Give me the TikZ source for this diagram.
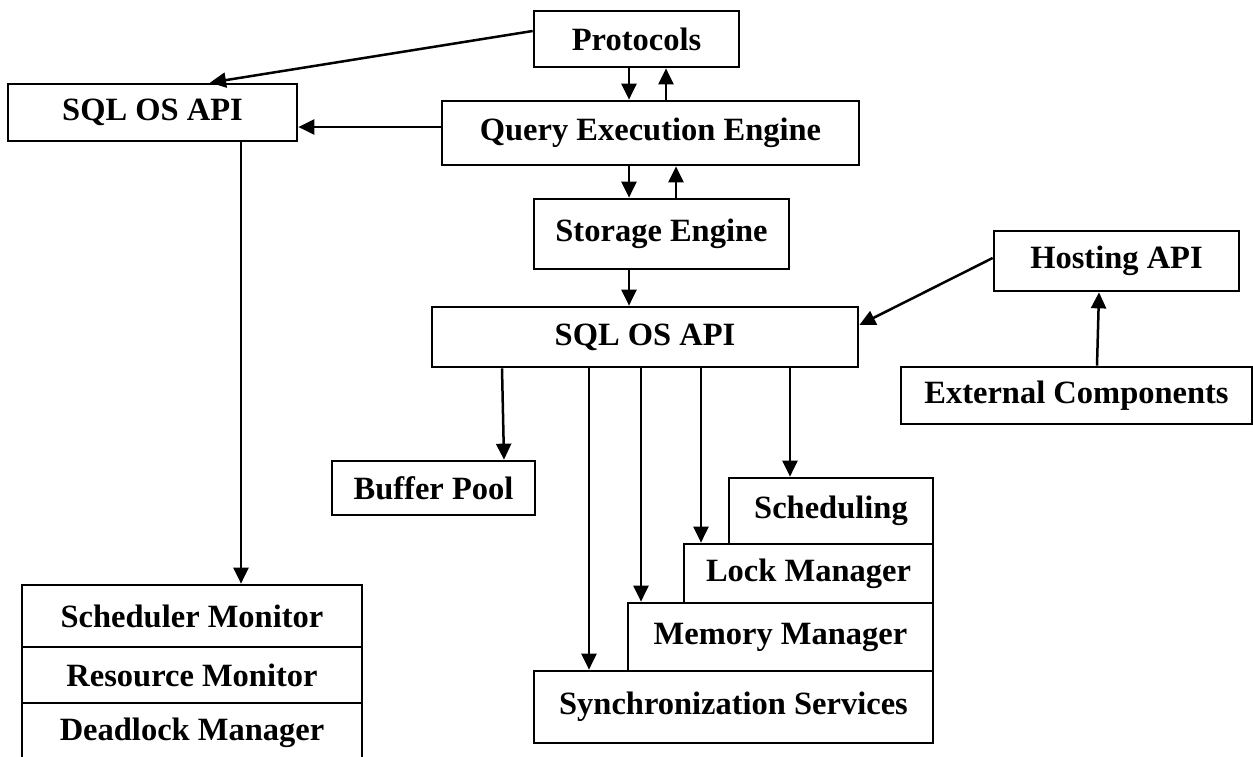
\documentclass[tikz,border=0pt]{standalone}
\usepackage{fontspec}
\setmainfont{Liberation Serif}
\usetikzlibrary{arrows.meta,calc}
\newcommand\mkbox[6]{\node[box, minimum width={(#4-#2)*1pt}, minimum height={(#5-#3)*1pt}] (#1) at ({(#2+#4)/2},{(#3+#5)/2}) {#6};}
\begin{document}
\begin{tikzpicture}[x=1pt,y=-1pt,
  box/.style={draw, line width=2.7pt, inner sep=0pt, font=\bfseries\fontsize{32.5}{38}\selectfont},
  arr/.style={line width=2.5pt, -{Triangle[width=15pt,length=16pt]}}]
\useasboundingbox (0,0) rectangle (1253,756);
% boxes
\mkbox{proto}{534}{11}{739}{67}{Protocols}
\mkbox{qee}{442}{101}{859}{165}{Query Execution Engine}
\mkbox{se}{534}{199}{789}{269}{Storage Engine}
\mkbox{sqlL}{8}{84}{297}{141}{SQL OS API}
\mkbox{main}{432}{307}{858}{367}{SQL OS API}
\mkbox{host}{994}{231}{1239}{291}{Hosting API}
\mkbox{ext}{901}{367}{1252}{424}{External Components}
\mkbox{buf}{332}{461}{535}{515}{Buffer Pool}
\mkbox{sched}{729}{478}{933}{544}{Scheduling}
\mkbox{lock}{684}{544}{933}{603}{Lock Manager}
\mkbox{mem}{628}{603}{933}{671}{Memory Manager}
\mkbox{sync}{534}{671}{933}{743}{Synchronization Services}
\mkbox{stk1}{22}{585}{362}{647}{Scheduler Monitor}
\mkbox{stk2}{22}{647}{362}{703}{Resource Monitor}
\mkbox{stk3}{22}{703}{362}{762}{Deadlock Manager}
% connectors
\draw[arr] ([yshift=8pt]proto.west) -- ([xshift=57.5pt]sqlL.north);
\draw[arr] ([yshift=6pt]qee.west) coordinate (q1) -- (q1 -| sqlL.east);
\draw[arr] ([xshift=-7.5pt]proto.south) coordinate (p1) -- (p1 |- qee.north);
\coordinate (p2) at ([xshift=29.5pt]proto.south);
\draw[arr] (p2 |- qee.north) -- (p2);
\draw[arr] ([xshift=-21.5pt]qee.south) coordinate (q2) -- (q2 |- se.north);
\coordinate (q3) at ([xshift=25.5pt]qee.south);
\draw[arr] (q3 |- se.north) -- (q3);
\draw[arr] ([xshift=-32.5pt]se.south) coordinate (s1) -- (s1 |- main.north);
\draw[arr] ([yshift=3pt]host.west) -- ([yshift=12pt]main.east);
\draw[arr] ([xshift=20.5pt]ext.north) -- ([xshift=-17.5pt]host.south);
\draw[arr] ([xshift=-143pt]main.south) -- ([xshift=70.5pt]buf.north);
\draw[arr] ([xshift=-56pt]main.south) coordinate (m1) -- (m1 |- sync.north);
\draw[arr] ([xshift=-4pt]main.south) coordinate (m2) -- (m2 |- mem.north);
\draw[arr] ([xshift=56pt]main.south) coordinate (m3) -- (m3 |- lock.north);
\draw[arr] ([xshift=145pt]main.south) coordinate (m4) -- (m4 |- sched.north);
\draw[arr] ([xshift=88.5pt]sqlL.south) coordinate (l1) -- (l1 |- stk1.north);
\end{tikzpicture}
\end{document}
